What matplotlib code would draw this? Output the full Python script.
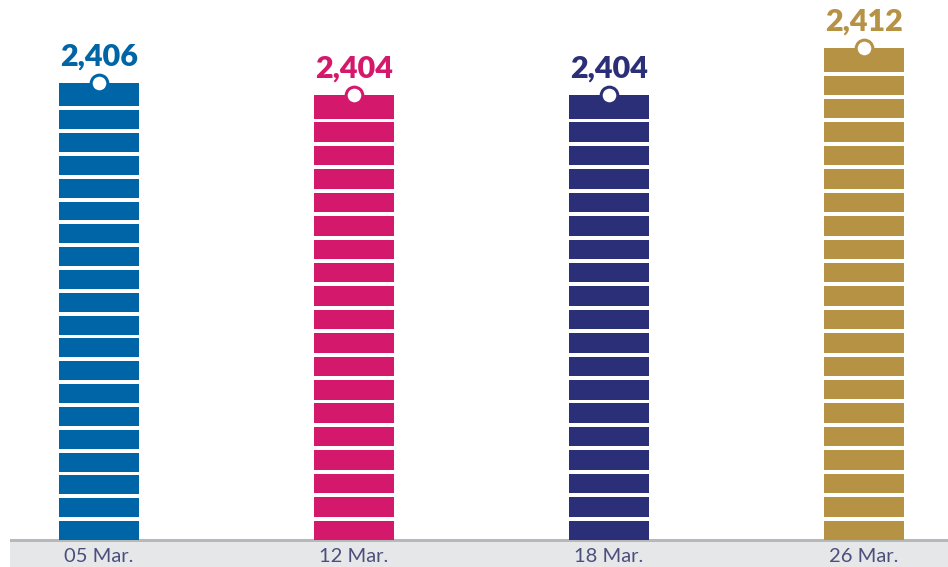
import numpy as np
import matplotlib.pyplot as plt
from matplotlib.patches import Rectangle

# chart data
dates = ['05 Mar.', '12 Mar.', '18 Mar.', '26 Mar.']
values = [2406, 2404, 2404, 2412]
colors = ['#0065a6', '#d4196c', '#2b2f78', '#b69245']

base = 2328.2      # truncated axis start
top = 2420.2
pitch = 3.96       # approx stripe pitch in data units
gap = 0.68         # white gap in data units

W, H = 948, 567
fig = plt.figure(figsize=(W / 100, H / 100), dpi=100)

# grey band under the bars (background axes)
bg = fig.add_axes([0, 0, 1, 1], zorder=-1)
bg.set_xlim(0, W)
bg.set_ylim(0, H)
bg.axis('off')
bg.add_patch(Rectangle((10, 0), W, 26, color='#e6e7e9', lw=0))
bg.add_patch(Rectangle((10, 25), W, 3, color='#b7b8ba', lw=0))

ax = fig.add_axes([0, 27 / H, 1, 1 - 27 / H])
ax.patch.set_alpha(0)

x = np.arange(len(values))
ax.bar(x, np.array(values) - base, bottom=base, width=0.314, color=colors, zorder=2)

# white stripes across each bar, full segments top and bottom
for xi, v in zip(x, values):
    n = int(round((v - base) / pitch))
    p = (v - base) / n
    for k in range(1, n):
        y0 = base + k * p - gap
        ax.add_patch(Rectangle((xi - 0.2, y0), 0.4, gap, color='white', zorder=3, lw=0))

# circle marker and value label
for xi, v, c in zip(x, values, colors):
    ax.plot(xi, v, 'o', ms=12, mfc='white', mec=c, mew=2.2, zorder=5, clip_on=False)
    ax.annotate(f'{v:,}', (xi, v), xytext=(0, 9), textcoords='offset points',
                ha='center', va='bottom', color=c, fontsize=22,
                fontweight='heavy', family='Lato')

ax.set_xlim(-99 / 255, 3 + (W - 864) / 255)
ax.set_ylim(base, top)
ax.set_yticks([])
ax.set_xticks(x, dates)
ax.tick_params(axis='x', length=0, pad=6, labelsize=14.5, labelcolor='#4b4f7c')
for lbl in ax.get_xticklabels():
    lbl.set_family('Lato')
    lbl.set_fontweight('normal')
for s in ax.spines.values():
    s.set_visible(False)

fig.savefig('out.png', dpi=100)
